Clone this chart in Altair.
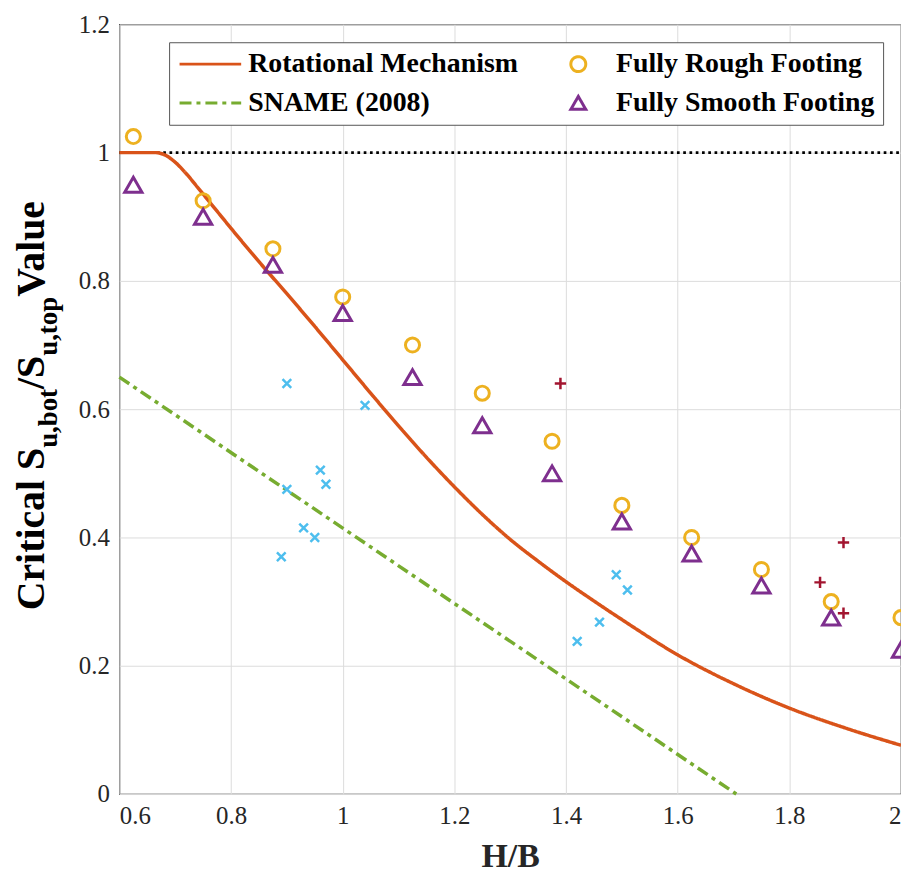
import altair as alt
import pandas as pd

# ---------------- data ----------------
rot_x = [0.6, 0.665, 0.68, 0.70, 0.72, 0.74, 0.77, 0.8, 0.85, 0.9, 0.95, 1.0, 1.05, 1.1,
         1.15, 1.2, 1.25, 1.3, 1.35, 1.4, 1.45, 1.5, 1.6, 1.7, 1.8, 1.9, 2.0]
rot_y = [1.0, 1.0, 0.997, 0.985, 0.967, 0.946, 0.914, 0.882, 0.830, 0.780, 0.729, 0.677,
         0.625, 0.574, 0.525, 0.479, 0.436, 0.397, 0.363, 0.331, 0.301, 0.272, 0.217,
         0.172, 0.134, 0.103, 0.076]
sname_x = [0.6, 1.705]
sname_y = [0.65, 0.0]
ref_x = [0.6, 2.0]
ref_y = [1.0, 1.0]

hb = [0.625, 0.75, 0.875, 1.0, 1.125, 1.25, 1.375, 1.5, 1.625, 1.75, 1.875, 2.0]
rough = [1.025, 0.925, 0.85, 0.775, 0.70, 0.625, 0.55, 0.45, 0.40, 0.35, 0.30, 0.275]
smooth = [0.95, 0.90, 0.825, 0.75, 0.65, 0.575, 0.50, 0.425, 0.375, 0.325, 0.275, 0.225]

xm_x = [0.9, 0.9, 0.89, 0.93, 0.95, 0.96, 0.97, 1.04, 1.42, 1.46, 1.49, 1.51]
xm_y = [0.64, 0.475, 0.37, 0.415, 0.40, 0.505, 0.483, 0.606, 0.238, 0.268, 0.342, 0.318]
plus_x = [1.39, 1.855, 1.897, 1.897]
plus_y = [0.64, 0.33, 0.392, 0.282]

# legend order (column-major fill, 2 columns)
series = ["Rotational Mechanism", "SNAME (2008)", "Fully Rough Footing", "Fully Smooth Footing"]
colors = ["#D95319", "#77AC30", "#EDB120", "#7E2F8E"]

x_ticks = [0.6, 0.8, 1.0, 1.2, 1.4, 1.6, 1.8, 2.0]
y_ticks = [0, 0.2, 0.4, 0.6, 0.8, 1.0, 1.2]

# ---------------- tables ----------------
lines_df = pd.concat([
    pd.DataFrame({"x": rot_x, "y": rot_y, "series": series[0]}),
    pd.DataFrame({"x": sname_x, "y": sname_y, "series": series[1]}),
])
ref_df = pd.DataFrame({"x": ref_x, "y": ref_y})
rough_df = pd.DataFrame({"x": hb, "y": rough, "series": series[2]})
smooth_df = pd.DataFrame({"x": hb, "y": smooth, "series": series[3]})
xm_df = pd.DataFrame({"x": xm_x, "y": xm_y})
plus_df = pd.DataFrame({"x": plus_x, "y": plus_y})

SERIF = "Liberation Serif"
LINE_PATH = "M-4.13,0H4.13"
shapes = [LINE_PATH, LINE_PATH, "circle", "triangle-up"]
dashes = [[1, 0], [12, 5, 4, 5], [1, 0], [1, 0]]

leg = alt.Legend(
    title=None, orient="none", legendX=50, legendY=18, columns=2,
    columnPadding=27, rowPadding=11, padding=8,
    symbolSize=225, symbolStrokeWidth=3, symbolOffset=19.5, labelOffset=24,
    labelFont=SERIF, labelFontSize=28, labelFontWeight="bold", labelColor="black",
    labelLimit=500, strokeColor="#555555", fillColor="white",
)

x_axis = alt.Axis(values=x_ticks, format="~g", title="H/B", grid=True, ticks=False,
                  domain=False, labelPadding=10, titlePadding=11)
y_axis = alt.Axis(values=y_ticks, format="~g", title=None, grid=True, ticks=False,
                  domain=False, labelPadding=10)

X = alt.X("x:Q", scale=alt.Scale(domain=[0.6, 2.0], nice=False, zero=False), axis=x_axis)
Y = alt.Y("y:Q", scale=alt.Scale(domain=[0, 1.2], nice=False, zero=False), axis=y_axis)
color = alt.Color("series:N", scale=alt.Scale(domain=series, range=colors), legend=leg)
shape = alt.Shape("series:N", scale=alt.Scale(domain=series, range=shapes), legend=leg)
dash = alt.StrokeDash("series:N", scale=alt.Scale(domain=series, range=dashes), legend=leg)

ref_layer = alt.Chart(ref_df).mark_line(
    color="black", strokeWidth=2.7, strokeDash=[2.7, 3.6]
).encode(x=X, y=Y)

line_layer = alt.Chart(lines_df).mark_line(
    strokeWidth=3.5, interpolate="monotone", opacity=1
).encode(x=X, y=Y, color=color, strokeDash=dash, detail="series:N")

xm_layer = alt.Chart(xm_df).mark_point(
    shape="M-1,-1L1,1M-1,1L1,-1", filled=False, strokeWidth=2.5, size=76,
    color="#4DBEEE", opacity=1
).encode(x=X, y=Y)

plus_layer = alt.Chart(plus_df).mark_point(
    shape="M-1,0L1,0M0,-1L0,1", filled=False, strokeWidth=2.5, size=130,
    color="#A2142F", opacity=1
).encode(x=X, y=Y)

rough_layer = alt.Chart(rough_df).mark_point(
    filled=False, strokeWidth=3, size=200, opacity=1
).encode(x=X, y=Y, color=color, shape=shape)

smooth_layer = alt.Chart(smooth_df).mark_point(
    filled=False, strokeWidth=3, size=300, opacity=1
).encode(x=X, y=Y, color=color, shape=shape)

# ---------------- y-axis title with subscripts ----------------
F_BIG, F_SUB = 40, 27
W = {"C": 722, "r": 444, "i": 278, "t": 333, "c": 444, "a": 500, "l": 278, " ": 250,
     "S": 556, "u": 556, ",": 250, "b": 556, "o": 500, "/": 278, "p": 556, "V": 722, "e": 444}


def text_width(s, size):
    return sum(W.get(ch, 500) for ch in s) / 1000 * size


pieces = [("Critical S", F_BIG, False), ("u,bot", F_SUB, True), ("/S", F_BIG, False),
          ("u,top", F_SUB, True), (" Value", F_BIG, False)]
total = sum(text_width(p, s) for p, s, _ in pieces)
y_start = 164 + total
x_big, x_sub = -76, -63
title_layers = []
cur = y_start
for txt, fs, sub in pieces:
    title_layers.append(
        alt.Chart(pd.DataFrame({"t": [txt]})).mark_text(
            angle=270, align="left", baseline="alphabetic", font=SERIF,
            fontSize=fs, fontWeight="bold", color="black"
        ).encode(x=alt.value(x_sub if sub else x_big), y=alt.value(cur), text="t:N")
    )
    cur -= text_width(txt, fs)

chart = alt.layer(
    ref_layer, line_layer, xm_layer, plus_layer, rough_layer, smooth_layer, *title_layers
).properties(
    width=786, height=774,
    autosize=alt.AutoSizeParams(type="none"),
    padding={"left": 112, "top": 14, "right": 0, "bottom": 82},
).configure_view(
    stroke="#262626", strokeWidth=1.2
).configure_axis(
    labelFont=SERIF, labelFontSize=25, labelColor="#262626",
    titleFont=SERIF, titleFontSize=34, titleFontWeight="bold", titleColor="#262626",
    gridColor="#dcdcdc", gridWidth=1,
)

chart.save("out.html", embed_options={"renderer": "svg", "actions": False})
